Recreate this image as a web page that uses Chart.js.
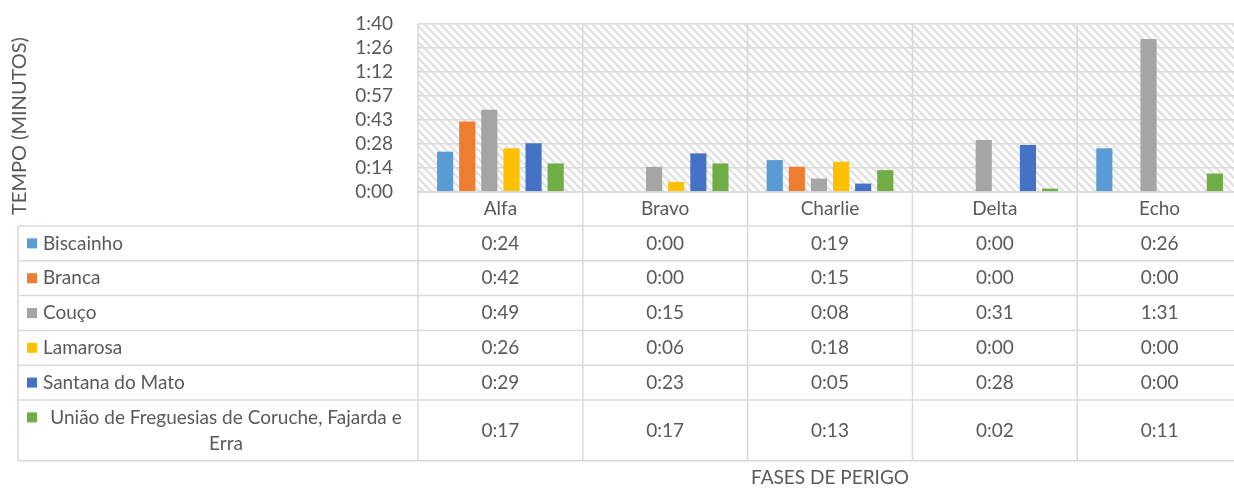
<!DOCTYPE html>
<html>
<head>
<meta charset="utf-8">
<script src="https://cdn.jsdelivr.net/npm/chart.js@4"></script>
<style>
    html, body { margin: 0; padding: 0; background: #fff; overflow: hidden; }
    #wrap { position: absolute; left: 0; top: 0; width: 1242px; height: 488px; }
</style>
</head>
<body>
<div id="wrap"><canvas id="grafico"></canvas></div>
<script>
const fases = ['Alfa', 'Bravo', 'Charlie', 'Delta', 'Echo'];

// tempos em minutos
const biscainho = [24, 0, 19, 0, 26];
const branca = [42, 0, 15, 0, 0];
const couco = [49, 15, 8, 31, 91];
const lamarosa = [26, 6, 18, 0, 0];
const santana = [29, 23, 5, 28, 0];
const uniao = [17, 17, 13, 2, 11];

const yTicks = ['0:00', '0:14', '0:28', '0:43', '0:57', '1:12', '1:26', '1:40'];

const fonte = "Lato, 'Liberation Sans', sans-serif";
const cinzaTexto = '#595959';
const cinzaLinha = '#d9d9d9';

function formatar(min) {
    return Math.floor(min / 60) + ':' + String(min % 60).padStart(2, '0');
}

function criarPadrao() {
    const c = document.createElement('canvas');
    c.width = 8;
    c.height = 8;
    const p = c.getContext('2d');
    p.fillStyle = '#fff';
    p.fillRect(0, 0, 8, 8);
    p.strokeStyle = '#e2e2e2';
    p.lineWidth = 2.5;
    p.beginPath();
    p.moveTo(-2, -2); p.lineTo(10, 10);
    p.moveTo(-2, 6); p.lineTo(2, 10);
    p.moveTo(6, -2); p.lineTo(10, 2);
    p.stroke();
    return p.createPattern(c, 'repeat');
}
const padrao = criarPadrao();

// quebra simples de linha
function quebrar(ctx, texto, largura) {
    const palavras = texto.split(' ');
    const linhas = [];
    let atual = '';
    palavras.forEach(p => {
        const teste = atual ? atual + ' ' + p : p;
        if (ctx.measureText(teste).width > largura && atual) {
            linhas.push(atual);
            atual = p;
        } else {
            atual = teste;
        }
    });
    linhas.push(atual);
    return linhas;
}

const tabela = {
    id: 'tabela',
    beforeDraw(chart) {
        const { ctx, chartArea: a } = chart;
        ctx.save();
        ctx.fillStyle = '#fff';
        ctx.fillRect(0, 0, chart.width, chart.height);
        ctx.fillStyle = padrao;
        ctx.fillRect(a.left, a.top, a.right - a.left, a.bottom - a.top);
        ctx.restore();
    },
    afterDraw(chart) {
        const { ctx, chartArea: a } = chart;
        const x = chart.scales.x;
        const larg = (a.right - a.left) / fases.length;
        const esq = 18;
        const cabecalho = 34;
        const alturaLinha = 34.8;
        const entreLinhas = 26;

        ctx.save();
        ctx.font = '19px ' + fonte;

        // alturas das linhas da tabela
        const blocos = chart.data.datasets.map(ds => quebrar(ctx, ds.label, 372));
        const tops = [];
        let y = a.bottom + cabecalho;
        blocos.forEach(l => {
            tops.push(y);
            y += alturaLinha + (l.length - 1) * entreLinhas;
        });
        const fundo = y;

        // linhas
        ctx.strokeStyle = cinzaLinha;
        ctx.lineWidth = 1.5;
        ctx.beginPath();
        for (let i = 0; i <= fases.length; i++) {
            const xx = a.left + i * larg;
            ctx.moveTo(xx, a.top);
            ctx.lineTo(xx, fundo);
        }
        ctx.moveTo(a.left, a.bottom);
        ctx.lineTo(a.right, a.bottom);
        ctx.moveTo(esq, a.bottom + cabecalho);
        ctx.lineTo(esq, fundo);
        tops.concat([fundo]).forEach(t => {
            ctx.moveTo(esq, t);
            ctx.lineTo(a.right, t);
        });
        ctx.stroke();

        // textos
        ctx.fillStyle = cinzaTexto;
        ctx.textBaseline = 'middle';
        ctx.textAlign = 'center';
        fases.forEach((f, i) => {
            ctx.fillText(f, x.getPixelForValue(i), a.bottom + cabecalho / 2);
        });

        chart.data.datasets.forEach((ds, k) => {
            const linhas = blocos[k];
            const alt = alturaLinha + (linhas.length - 1) * entreLinhas;
            const meio = tops[k] + alt / 2;
            const y0 = meio - (linhas.length - 1) * entreLinhas / 2;

            ctx.fillStyle = ds.backgroundColor;
            ctx.fillRect(27, y0 - 5, 10, 10);

            ctx.fillStyle = cinzaTexto;
            if (linhas.length === 1) {
                ctx.textAlign = 'left';
                ctx.fillText(linhas[0], 43, y0);
            } else {
                ctx.textAlign = 'center';
                linhas.forEach((l, j) => ctx.fillText(l, 226, y0 + j * entreLinhas));
            }

            ctx.textAlign = 'center';
            ds.data.forEach((v, i) => {
                ctx.fillText(formatar(v), x.getPixelForValue(i), meio);
            });
        });

        // títulos dos eixos
        ctx.font = '19px ' + fonte;
        ctx.fillText('FASES DE PERIGO', (a.left + a.right) / 2, 478);

        ctx.translate(20, 126);
        ctx.rotate(-Math.PI / 2);
        ctx.font = '20px ' + fonte;
        ctx.fillText('TEMPO (MINUTOS)', 0, 0);
        ctx.restore();
    }
};

const serie = (label, data, cor) => ({
    label: label,
    data: data,
    backgroundColor: cor,
    barPercentage: 0.73,
    categoryPercentage: 0.805
});

new Chart(document.getElementById('grafico'), {
    type: 'bar',
    data: {
        labels: fases,
        datasets: [
            serie('Biscainho', biscainho, '#5b9bd5'),
            serie('Branca', branca, '#ed7d31'),
            serie('Couço', couco, '#a5a5a5'),
            serie('Lamarosa', lamarosa, '#ffc000'),
            serie('Santana do Mato', santana, '#4472c4'),
            serie('União de Freguesias de Coruche, Fajarda e Erra', uniao, '#70ad47')
        ]
    },
    options: {
        responsive: true,
        maintainAspectRatio: false,
        animation: false,
        layout: { padding: { top: 24, bottom: 296, left: 0, right: 0 } },
        scales: {
            x: { display: false },
            y: {
                min: 0,
                max: 100,
                afterFit(s) {
                    s.width = 418;
                    s.paddingTop = 0;
                    s.paddingBottom = 0;
                },
                border: { display: false },
                grid: { color: cinzaLinha, lineWidth: 1.5, drawTicks: false },
                ticks: {
                    count: 8,
                    autoSkip: false,
                    padding: 25,
                    color: cinzaTexto,
                    font: { family: fonte, size: 19 },
                    callback: (v, i) => yTicks[i]
                }
            }
        },
        plugins: {
            legend: { display: false },
            tooltip: { enabled: false }
        }
    },
    plugins: [tabela]
});
</script>
</body>
</html>
